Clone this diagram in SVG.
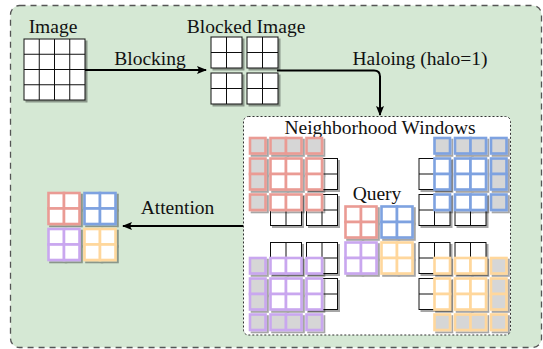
<svg xmlns="http://www.w3.org/2000/svg" xmlns:xlink="http://www.w3.org/1999/xlink" width="543" height="349" viewBox="0 0 543 349">
<style>
text{font-family:"Liberation Serif","Times New Roman",serif;font-size:19.5px;fill:#111}
.lbl{text-anchor:middle}
.g{fill:#fff;stroke:#111;stroke-width:1}
.c{stroke-width:2.6}
.red{stroke:#EA9B94}
.blue{stroke:#7EA2E0}
.pur{stroke:#C9A7EF}
.ora{stroke:#FFD79C}
.gy{fill:#D6D6D6}
.wh{fill:#fff}
.edge{fill:none;stroke:#000;stroke-width:2}
</style>
<defs>
<filter id="sh" x="-10%" y="-10%" width="130%" height="130%">
<feDropShadow dx="2" dy="2" stdDeviation="0.7" flood-color="#000" flood-opacity="0.35"/>
</filter>
<marker id="arr" viewBox="0 0 10 10" refX="9" refY="5" markerWidth="5" markerHeight="5" orient="auto" markerUnits="strokeWidth">
<path d="M0,1 L10,5 L0,9 L2,5 Z" fill="#000"/>
</marker>
<g id="blk">
<rect x="0" y="0" width="31" height="31"/>
<path d="M15.5,0 V31 M0,15.5 H31" fill="none"/>
</g>
<g id="cb">
<rect x="0" y="0" width="15.5" height="15.5" fill="#fff"/>
<rect x="15.5" y="0" width="15.5" height="15.5" fill="#fff"/>
<rect x="0" y="15.5" width="15.5" height="15.5" fill="#fff"/>
<rect x="15.5" y="15.5" width="15.5" height="15.5" fill="#fff"/>
</g>
</defs>

<rect id="bg" x="10.5" y="5.5" width="531" height="342" rx="9" fill="#D5E8D4" stroke="#555" stroke-width="1.3" stroke-dasharray="6 5"/>

<g id="image">
<text class="lbl" x="53" y="33">Image</text>
<g filter="url(#sh)">
<rect class="g" x="24" y="39" width="61" height="61"/>
<path d="M39.25,39 V100 M54.5,39 V100 M69.75,39 V100 M24,54.25 H85 M24,69.5 H85 M24,84.75 H85" stroke="#111" stroke-width="1" fill="none"/>
</g>
</g>

<g id="blocked">
<text class="lbl" x="246" y="33">Blocked Image</text>
<g class="g" filter="url(#sh)">
<use xlink:href="#blk" x="211" y="37"/>
<use xlink:href="#blk" x="247" y="37"/>
<use xlink:href="#blk" x="211" y="73"/>
<use xlink:href="#blk" x="247" y="73"/>
</g>
</g>

<g id="neighborhood">
<rect x="243.5" y="116.5" width="267" height="218.5" rx="5" fill="#fff" stroke="#333" stroke-width="1" stroke-dasharray="2 2"/>
<text class="lbl" x="380" y="133.5">Neighborhood Windows</text>
</g>

<g id="window-red">
<g class="g" filter="url(#sh)">
<use xlink:href="#blk" x="306.5" y="158.5"/>
<use xlink:href="#blk" x="270.5" y="194.5"/>
<use xlink:href="#blk" x="306.5" y="194.5"/>
</g>
<g class="c red" filter="url(#sh)">
<rect class="gy" x="250" y="138" width="15.5" height="15.5"/>
<rect class="gy" x="270.5" y="138" width="15.5" height="15.5"/>
<rect class="gy" x="286" y="138" width="15.5" height="15.5"/>
<rect class="gy" x="306.5" y="138" width="15.5" height="15.5"/>
<rect class="gy" x="250" y="158.5" width="15.5" height="15.5"/>
<rect class="gy" x="250" y="174" width="15.5" height="15.5"/>
<rect class="gy" x="250" y="194.5" width="15.5" height="15.5"/>
<rect class="wh" x="270.5" y="158.5" width="15.5" height="15.5"/>
<rect class="wh" x="286" y="158.5" width="15.5" height="15.5"/>
<rect class="wh" x="270.5" y="174" width="15.5" height="15.5"/>
<rect class="wh" x="286" y="174" width="15.5" height="15.5"/>
<rect class="wh" x="306.5" y="158.5" width="15.5" height="15.5"/>
<rect class="wh" x="306.5" y="174" width="15.5" height="15.5"/>
<rect class="wh" x="270.5" y="194.5" width="15.5" height="15.5"/>
<rect class="wh" x="286" y="194.5" width="15.5" height="15.5"/>
<rect class="wh" x="306.5" y="194.5" width="15.5" height="15.5"/>
</g>
</g>

<g id="window-blue">
<g class="g" filter="url(#sh)">
<use xlink:href="#blk" x="419" y="158.5"/>
<use xlink:href="#blk" x="419" y="194.5"/>
<use xlink:href="#blk" x="455" y="194.5"/>
</g>
<g class="c blue" filter="url(#sh)">
<rect class="gy" x="434.5" y="138" width="15.5" height="15.5"/>
<rect class="gy" x="455" y="138" width="15.5" height="15.5"/>
<rect class="gy" x="470.5" y="138" width="15.5" height="15.5"/>
<rect class="gy" x="491" y="138" width="15.5" height="15.5"/>
<rect class="gy" x="491" y="158.5" width="15.5" height="15.5"/>
<rect class="gy" x="491" y="174" width="15.5" height="15.5"/>
<rect class="gy" x="491" y="194.5" width="15.5" height="15.5"/>
<rect class="wh" x="455" y="158.5" width="15.5" height="15.5"/>
<rect class="wh" x="470.5" y="158.5" width="15.5" height="15.5"/>
<rect class="wh" x="455" y="174" width="15.5" height="15.5"/>
<rect class="wh" x="470.5" y="174" width="15.5" height="15.5"/>
<rect class="wh" x="434.5" y="158.5" width="15.5" height="15.5"/>
<rect class="wh" x="434.5" y="174" width="15.5" height="15.5"/>
<rect class="wh" x="434.5" y="194.5" width="15.5" height="15.5"/>
<rect class="wh" x="455" y="194.5" width="15.5" height="15.5"/>
<rect class="wh" x="470.5" y="194.5" width="15.5" height="15.5"/>
</g>
</g>

<g id="window-purple">
<g class="g" filter="url(#sh)">
<use xlink:href="#blk" x="270.5" y="242.5"/>
<use xlink:href="#blk" x="306.5" y="242.5"/>
<use xlink:href="#blk" x="306.5" y="278.5"/>
</g>
<g class="c pur" filter="url(#sh)">
<rect class="gy" x="250" y="258" width="15.5" height="15.5"/>
<rect class="gy" x="250" y="278.5" width="15.5" height="15.5"/>
<rect class="gy" x="250" y="294" width="15.5" height="15.5"/>
<rect class="gy" x="250" y="314.5" width="15.5" height="15.5"/>
<rect class="gy" x="270.5" y="314.5" width="15.5" height="15.5"/>
<rect class="gy" x="286" y="314.5" width="15.5" height="15.5"/>
<rect class="gy" x="306.5" y="314.5" width="15.5" height="15.5"/>
<rect class="wh" x="270.5" y="258" width="15.5" height="15.5"/>
<rect class="wh" x="286" y="258" width="15.5" height="15.5"/>
<rect class="wh" x="306.5" y="258" width="15.5" height="15.5"/>
<rect class="wh" x="270.5" y="278.5" width="15.5" height="15.5"/>
<rect class="wh" x="286" y="278.5" width="15.5" height="15.5"/>
<rect class="wh" x="270.5" y="294" width="15.5" height="15.5"/>
<rect class="wh" x="286" y="294" width="15.5" height="15.5"/>
<rect class="wh" x="306.5" y="278.5" width="15.5" height="15.5"/>
<rect class="wh" x="306.5" y="294" width="15.5" height="15.5"/>
</g>
</g>

<g id="window-orange">
<g class="g" filter="url(#sh)">
<use xlink:href="#blk" x="419" y="242.5"/>
<use xlink:href="#blk" x="455" y="242.5"/>
<use xlink:href="#blk" x="419" y="278.5"/>
</g>
<g class="c ora" filter="url(#sh)">
<rect class="gy" x="491" y="258" width="15.5" height="15.5"/>
<rect class="gy" x="491" y="278.5" width="15.5" height="15.5"/>
<rect class="gy" x="491" y="294" width="15.5" height="15.5"/>
<rect class="gy" x="434.5" y="314.5" width="15.5" height="15.5"/>
<rect class="gy" x="455" y="314.5" width="15.5" height="15.5"/>
<rect class="gy" x="470.5" y="314.5" width="15.5" height="15.5"/>
<rect class="gy" x="491" y="314.5" width="15.5" height="15.5"/>
<rect class="wh" x="434.5" y="258" width="15.5" height="15.5"/>
<rect class="wh" x="455" y="258" width="15.5" height="15.5"/>
<rect class="wh" x="470.5" y="258" width="15.5" height="15.5"/>
<rect class="wh" x="434.5" y="278.5" width="15.5" height="15.5"/>
<rect class="wh" x="434.5" y="294" width="15.5" height="15.5"/>
<rect class="wh" x="455" y="278.5" width="15.5" height="15.5"/>
<rect class="wh" x="470.5" y="278.5" width="15.5" height="15.5"/>
<rect class="wh" x="455" y="294" width="15.5" height="15.5"/>
<rect class="wh" x="470.5" y="294" width="15.5" height="15.5"/>
</g>
</g>

<g id="query">
<text class="lbl" x="377" y="200">Query</text>
<g class="c" filter="url(#sh)">
<use class="red" xlink:href="#cb" x="345.5" y="206.5"/>
<use class="blue" xlink:href="#cb" x="381.5" y="206.5"/>
<use class="pur" xlink:href="#cb" x="345.5" y="242.5"/>
<use class="ora" xlink:href="#cb" x="381.5" y="242.5"/>
</g>
</g>

<g id="output">
<g class="c" filter="url(#sh)">
<use class="red" xlink:href="#cb" x="48.5" y="193"/>
<use class="blue" xlink:href="#cb" x="84.5" y="193"/>
<use class="pur" xlink:href="#cb" x="48.5" y="229"/>
<use class="ora" xlink:href="#cb" x="84.5" y="229"/>
</g>
</g>

<g id="connectors">
<path class="edge" d="M85,70 H206" marker-end="url(#arr)"/>
<text class="lbl" x="150" y="65">Blocking</text>
<path class="edge" d="M277,70.5 H374 Q380,70.5 380,76.5 V115" marker-end="url(#arr)"/>
<text class="lbl" x="420" y="65">Haloing (halo=1)</text>
<path class="edge" d="M243,226 H123" marker-end="url(#arr)"/>
<text class="lbl" x="177.5" y="214">Attention</text>
</g>
</svg>
